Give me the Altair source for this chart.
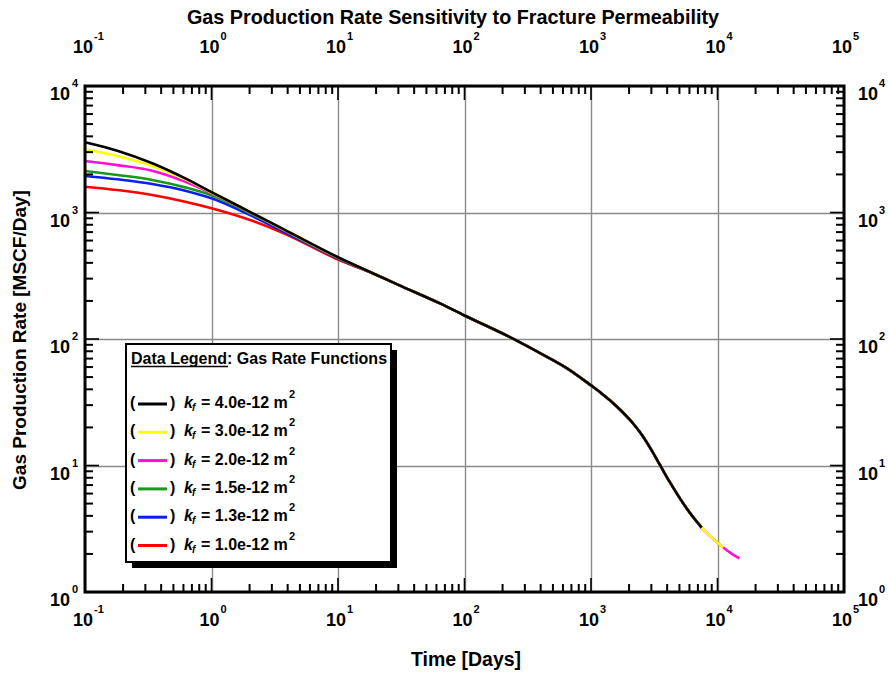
import altair as alt
import pandas as pd

W, H = 759, 506
FONT = "Liberation Sans"

# ---------------- data ----------------
t_early = [0.1, 0.18, 0.34, 0.62, 1.0, 2.1, 3.8, 10]
black_early = [3590, 3080, 2450, 1860, 1450, 990, 729, 443]
yellow_early = [3160, 2800, 2330, 1830, 1440, 988, 727, 442]
magenta_early = [2550, 2370, 2140, 1750, 1420, 980, 722, 440]
green_early = [2130, 1980, 1810, 1580, 1370, 968, 715, 437]
blue_early = [1945, 1830, 1680, 1487, 1295, 935, 697, 433]
red_early = [1600, 1505, 1375, 1217, 1080, 860, 680, 425]

t_late = [20, 30, 64, 100, 250, 500, 624, 1000, 1180, 1600, 2160, 2440, 3000, 3500, 4200, 5060, 6000, 7500]
rate_late = [322, 268, 191, 153.5, 99, 68, 60, 43, 38, 29.3, 21.4, 18.3, 13.3, 10.15, 7.38, 5.47, 4.27, 3.23]

t_yellow_tail = [9000, 11100]
rate_yellow_tail = [2.69, 2.25]
t_magenta_tail = [9000, 11100, 13000, 14900]
rate_magenta_tail = [2.69, 2.25, 2.0, 1.84]

series_names = ["4.0e-12", "3.0e-12", "2.0e-12", "1.5e-12", "1.3e-12", "1.0e-12"]
series_colors = ["#000000", "#ffff00", "#ff10d8", "#17991a", "#0a1ef0", "#ff0000"]

x_decades = [0.1, 1, 10, 100, 1000, 10000, 100000]
x_exps = ["-1", "0", "1", "2", "3", "4", "5"]
y_decades = [1, 10, 100, 1000, 10000]
y_exps = ["0", "1", "2", "3", "4"]
minor_mult = [2, 3, 4, 5, 6, 7, 8, 9]

# ---------------- build series ----------------
early = {
    "4.0e-12": black_early, "3.0e-12": yellow_early, "2.0e-12": magenta_early,
    "1.5e-12": green_early, "1.3e-12": blue_early, "1.0e-12": red_early,
}
tails = {"3.0e-12": (t_yellow_tail, rate_yellow_tail), "2.0e-12": (t_magenta_tail, rate_magenta_tail)}


def series_df(name):
    t = list(t_early) + list(t_late)
    r = list(early[name]) + list(rate_late)
    if name in tails:
        t += tails[name][0]
        r += tails[name][1]
    return pd.DataFrame({"t": t, "rate": r})


xs = alt.Scale(type="log", domain=[0.1, 100000], nice=False)
ys = alt.Scale(type="log", domain=[1, 10000], nice=False)
one = pd.DataFrame({"a": [0]})

layers = []

# grid carrier
grid = alt.Chart(pd.DataFrame({"t": [0.1], "rate": [1]})).mark_point(opacity=0).encode(
    x=alt.X("t:Q", scale=xs, axis=alt.Axis(values=x_decades, grid=True, gridColor="#8a8a8a", gridWidth=1.4,
                                           labels=False, ticks=False, domain=False, title=None)),
    y=alt.Y("rate:Q", scale=ys, axis=alt.Axis(values=y_decades, grid=True, gridColor="#8a8a8a", gridWidth=1.4,
                                              labels=False, ticks=False, domain=False, title=None)),
)
layers.append(grid)

# curves: draw red first, black last
for name, col in reversed(list(zip(series_names, series_colors))):
    layers.append(
        alt.Chart(series_df(name)).mark_line(color=col, strokeWidth=2.6, interpolate="monotone").encode(
            x=alt.X("t:Q", scale=xs), y=alt.Y("rate:Q", scale=ys)
        )
    )

# tick marks (inward)
xminor = [d * m for d in x_decades[:-1] for m in minor_mult]
yminor = [d * m for d in y_decades[:-1] for m in minor_mult]
xmin_df = pd.DataFrame({"t": xminor})
xmaj_df = pd.DataFrame({"t": x_decades})
ymin_df = pd.DataFrame({"rate": yminor})
ymaj_df = pd.DataFrame({"rate": y_decades})

for df, ln, sw in [(xmin_df, 8, 2), (xmaj_df, 14, 1.6)]:
    layers.append(alt.Chart(df).mark_rule(color="black", strokeWidth=sw).encode(
        x=alt.X("t:Q", scale=xs), y=alt.value(H), y2=alt.value(H - ln)))
    layers.append(alt.Chart(df).mark_rule(color="black", strokeWidth=sw).encode(
        x=alt.X("t:Q", scale=xs), y=alt.value(0), y2=alt.value(ln)))
for df, ln, sw in [(ymin_df, 8, 2), (ymaj_df, 14, 1.6)]:
    layers.append(alt.Chart(df).mark_rule(color="black", strokeWidth=sw).encode(
        y=alt.Y("rate:Q", scale=ys), x=alt.value(0), x2=alt.value(ln)))
    layers.append(alt.Chart(df).mark_rule(color="black", strokeWidth=sw).encode(
        y=alt.Y("rate:Q", scale=ys), x=alt.value(W), x2=alt.value(W - ln)))

# axis tick labels
xlab = pd.DataFrame({"t": x_decades, "base": ["10"] * len(x_decades), "exp": x_exps})
ylab = pd.DataFrame({"rate": y_decades, "base": ["10"] * len(y_decades), "exp": y_exps})

for ybase, yexp in [(H + 20, H + 12), (-47, -55)]:
    layers.append(alt.Chart(xlab).mark_text(font=FONT, fontWeight="bold", fontSize=18, align="center",
                                            baseline="top", dx=-2).encode(
        x=alt.X("t:Q", scale=xs), y=alt.value(ybase), text="base:N"))
    layers.append(alt.Chart(xlab).mark_text(font=FONT, fontWeight="bold", fontSize=11, align="left",
                                            baseline="top", dx=9).encode(
        x=alt.X("t:Q", scale=xs), y=alt.value(yexp), text="exp:N"))

layers.append(alt.Chart(ylab).mark_text(font=FONT, fontWeight="bold", fontSize=18, align="right",
                                        baseline="top", dy=0).encode(
    y=alt.Y("rate:Q", scale=ys), x=alt.value(-15), text="base:N"))
layers.append(alt.Chart(ylab).mark_text(font=FONT, fontWeight="bold", fontSize=11, align="left",
                                        baseline="top", dy=-8).encode(
    y=alt.Y("rate:Q", scale=ys), x=alt.value(-13), text="exp:N"))
layers.append(alt.Chart(ylab).mark_text(font=FONT, fontWeight="bold", fontSize=18, align="left",
                                        baseline="top", dy=0).encode(
    y=alt.Y("rate:Q", scale=ys), x=alt.value(W + 14), text="base:N"))
layers.append(alt.Chart(ylab).mark_text(font=FONT, fontWeight="bold", fontSize=11, align="left",
                                        baseline="top", dy=-8).encode(
    y=alt.Y("rate:Q", scale=ys), x=alt.value(W + 35), text="exp:N"))


def txt(s, x, y, size=16, align="left", baseline="middle", style="normal", angle=None):
    kw = dict(text=s, font=FONT, fontWeight="bold", fontSize=size, align=align, baseline=baseline,
              fontStyle=style, color="black")
    if angle is not None:
        kw["angle"] = angle
    return alt.Chart(one).mark_text(**kw).encode(x=alt.value(x), y=alt.value(y))


# titles
layers.append(txt("Gas Production Rate Sensitivity to Fracture Permeability", 368, -68, size=19.8, align="center"))
layers.append(txt("Time [Days]", 381, 574, size=19.5, align="center"))
layers.append(txt("Gas Production Rate [MSCF/Day]", -65, 254, size=19, align="center", angle=270))

# legend box with shadow
bx1, bx2, by1, by2 = 41, 306, 258, 476
layers.append(alt.Chart(one).mark_rect(color="black").encode(
    x=alt.value(bx1 + 6), x2=alt.value(bx2 + 6), y=alt.value(by1 + 6), y2=alt.value(by2 + 6)))
layers.append(alt.Chart(one).mark_rect(fill="white", stroke="black", strokeWidth=2).encode(
    x=alt.value(bx1), x2=alt.value(bx2), y=alt.value(by1), y2=alt.value(by2)))
layers.append(txt("Data Legend: Gas Rate Functions", 46, 278, size=16, baseline="alphabetic"))
layers.append(alt.Chart(one).mark_rule(color="black", strokeWidth=1.5).encode(
    x=alt.value(46), x2=alt.value(143), y=alt.value(280.5)))

for i, (name, col) in enumerate(zip(series_names, series_colors)):
    py = 317 + i * 28.3
    layers.append(txt("(", 45, py))
    layers.append(alt.Chart(one).mark_rule(color=col, strokeWidth=3).encode(
        x=alt.value(53), x2=alt.value(82), y=alt.value(py + 1)))
    layers.append(txt(")", 85, py))
    layers.append(txt("k", 99, py, style="italic"))
    layers.append(txt("f", 107, py + 5, size=10, style="italic"))
    layers.append(txt("= " + name + " m", 116, py))
    layers.append(txt("2", 204, py - 8, size=11))

# frame
layers.append(alt.Chart(one).mark_rect(filled=False, stroke="black", strokeWidth=3).encode(
    x=alt.value(0), x2=alt.value(W), y=alt.value(0), y2=alt.value(H)))

chart = alt.layer(*layers).properties(
    width=W, height=H,
    autosize=alt.AutoSizeParams(type="none"),
    padding={"left": 85, "top": 86, "right": 44, "bottom": 81},
).configure_view(stroke=None).configure(background="white")

chart.save("out.html", embed_options={"renderer": "svg", "actions": False})
